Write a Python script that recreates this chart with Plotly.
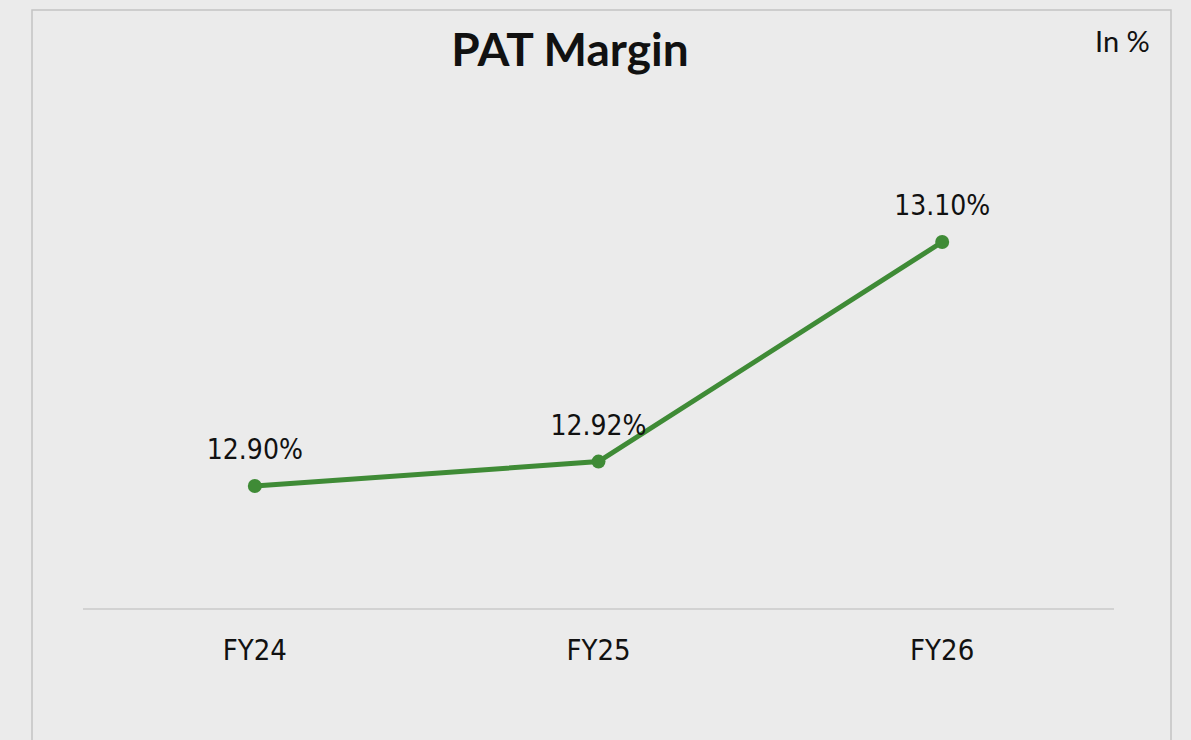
import plotly.graph_objects as go

categories = ["FY24", "FY25", "FY26"]
pat_margin = [12.90, 12.92, 13.10]
labels = ["12.90%", "12.92%", "13.10%"]

GREEN = "#3f8b36"
BG = "#ebebeb"
LABEL_FONT = "DejaVu Sans Condensed, Noto Sans, sans-serif"
OFF = 8  # default page body margin

fig = go.Figure()
fig.add_trace(go.Scatter(
    x=categories, y=pat_margin,
    mode="lines+markers",
    line=dict(color=GREEN, width=5),
    marker=dict(color=GREEN, size=14),
    cliponaxis=False, hoverinfo="skip", showlegend=False,
))
fig.add_trace(go.Scatter(
    x=categories, y=pat_margin,
    mode="markers+text",
    marker=dict(color="rgba(0,0,0,0)", size=30),
    text=labels, textposition="top center",
    textfont=dict(family=LABEL_FONT, size=28, color="#111111"),
    cliponaxis=False, hoverinfo="skip", showlegend=False,
))

W, H = 1191 - OFF, 740 - OFF
L, R, T, B = 83 - OFF, 1114 - OFF, 120 - OFF, 608 - OFF

def px(x):
    return (x - OFF - L) / (R - L)

def py(y):
    return (B - (y - OFF)) / (B - T)

fig.update_layout(
    width=W, height=H,
    margin=dict(l=L, r=W - R, t=T, b=H - B),
    paper_bgcolor=BG, plot_bgcolor=BG,
    title=dict(text="<b>PAT Margin</b>", x=px(570), xref="paper", xanchor="center",
               y=1 - (50 - OFF) / H, yanchor="middle",
               font=dict(family="Lato, Open Sans, sans-serif", size=46, color="#111111")),
    xaxis=dict(range=[-0.5, 2.5], showgrid=False, zeroline=False,
               showline=True, linecolor="#d2d2d2", linewidth=2,
               ticks="", ticklabelstandoff=15,
               tickfont=dict(family=LABEL_FONT, size=29, color="#111111")),
    yaxis=dict(range=[12.8, 13.2], visible=False, showgrid=False, zeroline=False),
    annotations=[dict(text="In %", xref="paper", yref="paper", x=px(1152), y=py(40),
                      xanchor="right", yanchor="middle", showarrow=False,
                      font=dict(family="Lato, Open Sans, sans-serif", size=29, color="#111111"))],
    shapes=[dict(type="rect", xref="paper", yref="paper",
                 x0=px(32), x1=px(1171), y0=py(760), y1=py(10),
                 line=dict(color="#c4c4c4", width=1.5), fillcolor="rgba(0,0,0,0)", layer="below")],
)

fig.write_html("out.html",
               post_script="document.body.style.background='#ebebeb';"
                           "document.documentElement.style.background='#ebebeb';")
